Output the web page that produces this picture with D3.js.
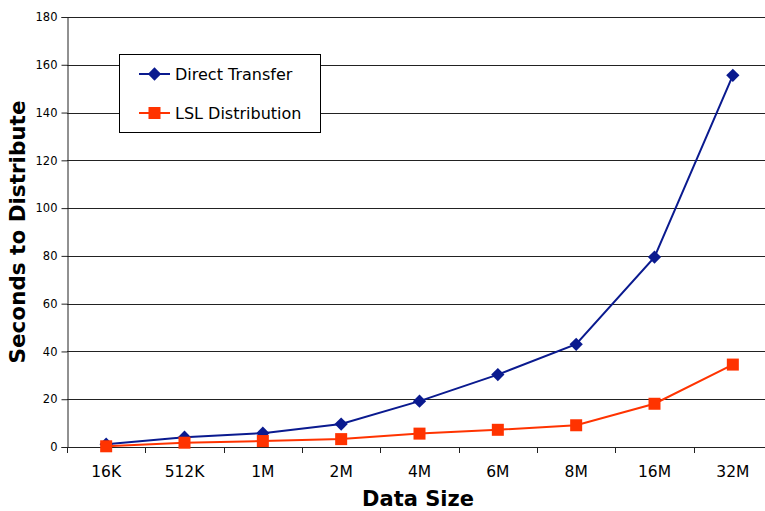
<!DOCTYPE html>
<html><head><meta charset="utf-8">
<script src="https://cdn.jsdelivr.net/npm/d3@7"></script>
<style>body{margin:0;background:#fff}svg{display:block}text{font-family:"DejaVu Sans",Verdana,sans-serif}</style>
</head><body>
<svg id="c" width="765" height="511"></svg>
<script>
const categories = ["16K","512K","1M","2M","4M","6M","8M","16M","32M"];
const directTransfer = [1.2, 4.1, 5.8, 9.6, 19.2, 30.3, 43.0, 79.5, 155.6];
const lslDistribution = [0.3, 1.8, 2.5, 3.3, 5.6, 7.2, 9.1, 18.1, 34.5];
const yTicks = [0,20,40,60,80,100,120,140,160,180];
const seriesNames = ["Direct Transfer","LSL Distribution"];

const svg = d3.select("#c");
const m = {l:67, t:17, r:772, b:447};
const x = d3.scaleBand().domain(categories).range([m.l, m.r]);
const y = d3.scaleLinear().domain([0,180]).range([m.b, m.t]);

// gridlines
svg.append("g").selectAll("line").data(yTicks.filter(d=>d>0)).join("line")
  .attr("x1", m.l).attr("x2", 765).attr("y1", d=>Math.round(y(d))+0.5).attr("y2", d=>Math.round(y(d))+0.5)
  .attr("stroke","#222").attr("stroke-width",1);

// y axis
const ya = svg.append("g").attr("transform",`translate(${m.l+0.5},0)`)
  .call(d3.axisLeft(y).tickValues(yTicks).tickSize(6).tickPadding(4));
ya.select(".domain").attr("stroke","#222");
ya.selectAll("line").attr("stroke","#222");
ya.selectAll("text").attr("font-size",11.5).attr("fill","#000");

// x axis
const xa = svg.append("g").attr("transform",`translate(0,${Math.round(m.b)+0.5})`)
  .call(d3.axisBottom(x).tickSize(0).tickPadding(18));
xa.select(".domain").attr("stroke","#222").attr("d",`M${m.l},0H765`);
xa.selectAll("text").attr("font-size",15.5).attr("fill","#000");
svg.append("g").selectAll("line").data(categories).join("line")
  .attr("x1", d=>Math.round(x(d))+0.5).attr("x2", d=>Math.round(x(d))+0.5)
  .attr("y1", m.b).attr("y2", m.b+6).attr("stroke","#222");

// axis titles
svg.append("text").attr("x",418).attr("y",506).attr("text-anchor","middle")
  .attr("font-size",21).attr("font-weight","bold").text("Data Size");
svg.append("text").attr("transform","translate(25,232) rotate(-90)").attr("text-anchor","middle")
  .attr("font-size",21.5).attr("font-weight","bold").text("Seconds to Distribute");

const cx = d => x(d) + x.bandwidth()/2;
const colors = ["#0a1a8f","#ff3300"];
const line = d3.line().x((d,i)=>cx(categories[i])).y(d=>y(d));

svg.append("path").datum(directTransfer).attr("d",line).attr("fill","none").attr("stroke",colors[0]).attr("stroke-width",2);
svg.append("path").datum(lslDistribution).attr("d",line).attr("fill","none").attr("stroke",colors[1]).attr("stroke-width",2);

const dia = d3.symbol().type(d3.symbolSquare).size(88);
svg.append("g").selectAll("path").data(directTransfer).join("path")
  .attr("d", dia).attr("transform",(d,i)=>`translate(${cx(categories[i])},${y(d)}) rotate(45)`)
  .attr("fill",colors[0]);
svg.append("g").selectAll("rect").data(lslDistribution).join("rect")
  .attr("x",(d,i)=>cx(categories[i])-6).attr("y",d=>y(d)-6).attr("width",12).attr("height",12)
  .attr("fill",colors[1]);

// legend
const lg = svg.append("g");
lg.append("rect").attr("x",119.5).attr("y",54.5).attr("width",201).attr("height",78)
  .attr("fill","#fff").attr("stroke","#000");
const ly = [74, 113];
seriesNames.forEach((n,i)=>{
  lg.append("line").attr("x1",139).attr("x2",170).attr("y1",ly[i]).attr("y2",ly[i]).attr("stroke",colors[i]).attr("stroke-width",2);
  if(i===0) lg.append("path").attr("d",dia).attr("transform",`translate(154.5,${ly[i]}) rotate(45)`).attr("fill",colors[i]);
  else lg.append("rect").attr("x",148.5).attr("y",ly[i]-6).attr("width",12).attr("height",12).attr("fill",colors[i]);
  lg.append("text").attr("x",175).attr("y",ly[i]+5.5).attr("font-size",16).text(n);
});
</script>
</body></html>
